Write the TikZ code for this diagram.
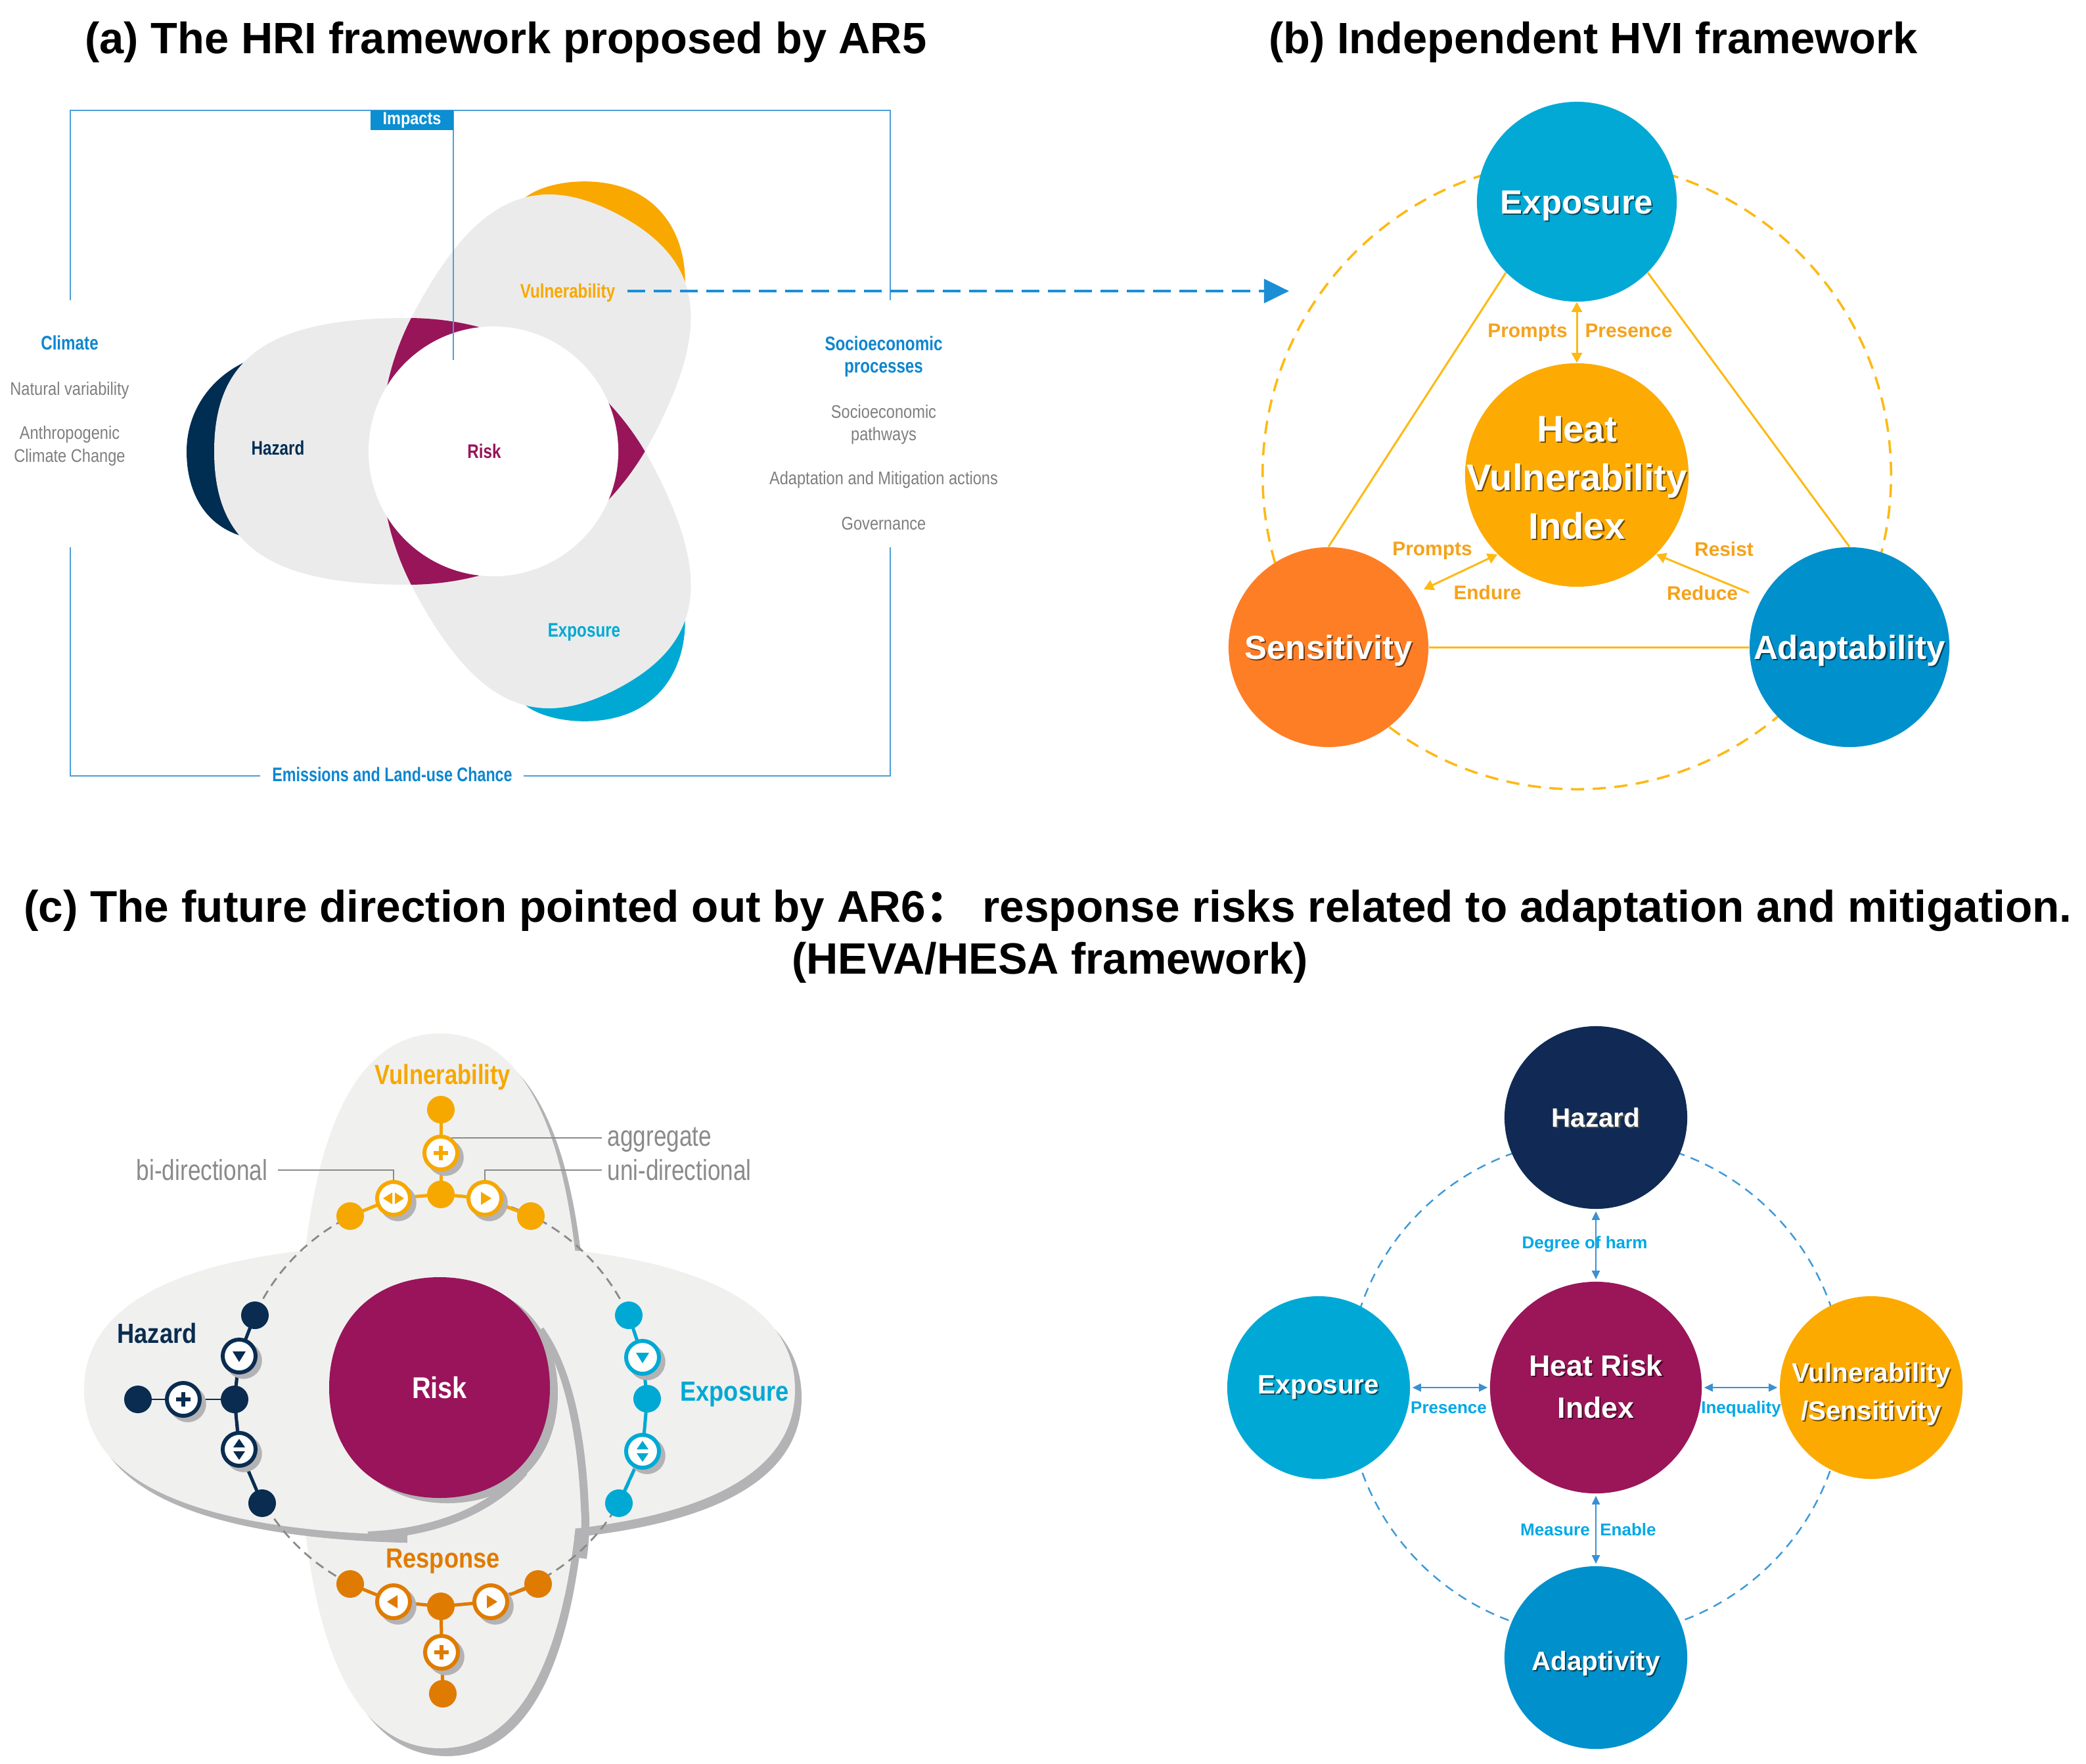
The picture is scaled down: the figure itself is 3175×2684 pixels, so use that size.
\documentclass[tikz,border=0pt]{standalone}
\usepackage{fontspec}
\setmainfont{Liberation Sans}
\newfontfamily\cjkfont{Noto Sans CJK SC}
\usepackage{graphicx}
\usetikzlibrary{arrows.meta,calc,shadows}

% (a)
\definecolor{aframe}{HTML}{4C9FDA}
\definecolor{ablue}{HTML}{0E86CF}
\definecolor{aimp}{HTML}{0B8ED2}
\definecolor{agray}{HTML}{7F7F7F}
\definecolor{petal}{HTML}{EBEBEB}
\definecolor{navy}{HTML}{002D52}
\definecolor{vorange}{HTML}{F9A800}
\definecolor{ecyan}{HTML}{00A9D4}
\definecolor{rmag}{HTML}{98155A}
\definecolor{arrowblue}{HTML}{1A8FD6}
% (b)
\definecolor{bexp}{HTML}{02A9D5}
\definecolor{bhvi}{HTML}{FDAA02}
\definecolor{bsens}{HTML}{FE7E26}
\definecolor{badapt}{HTML}{0090CC}
\definecolor{bline}{HTML}{FDB914}
\definecolor{blabel}{HTML}{F5A21B}
% (c) left
\definecolor{cface}{HTML}{F0F0EF}
\definecolor{cshadow}{HTML}{B3B2B4}
\definecolor{cnavy}{HTML}{0A2C50}
\definecolor{corange}{HTML}{F6A800}
\definecolor{cresp}{HTML}{DF7B00}
\definecolor{ccyan}{HTML}{00A9D4}
\definecolor{cmag}{HTML}{99145A}
\definecolor{cgrayt}{HTML}{8A8A8A}
\definecolor{cdashc}{HTML}{8A8A8A}
% (c) right
\definecolor{dnavy}{HTML}{102A55}
\definecolor{dmag}{HTML}{9A1659}
\definecolor{dcyan}{HTML}{00A9D5}
\definecolor{dorange}{HTML}{FCAA00}
\definecolor{dblue}{HTML}{0090CB}
\definecolor{ddash}{HTML}{3D9AD9}
\definecolor{dlabel}{HTML}{00A8E6}
\definecolor{darrow}{HTML}{3A90D0}

\newcommand\nar[2][0.85]{\scalebox{#1}[1]{#2}}
\newcommand\shd[2]{\leavevmode\rlap{\kern0.6pt\raisebox{-0.6pt}{\textcolor{#1}{#2}}}\textcolor{white}{#2}}
% superellipse-like closed path: cx, cy, a, b, k
\newcommand\sqpath[5]{({#1+#3},{#2}) .. controls ({#1+#3},{#2+#5*#4}) and ({#1+#5*#3},{#2+#4}) .. ({#1},{#2+#4}) .. controls ({#1-#5*#3},{#2+#4}) and ({#1-#3},{#2+#5*#4}) .. ({#1-#3},{#2}) .. controls ({#1-#3},{#2-#5*#4}) and ({#1-#5*#3},{#2-#4}) .. ({#1},{#2-#4}) .. controls ({#1+#5*#3},{#2-#4}) and ({#1+#3},{#2-#5*#4}) .. ({#1+#3},{#2}) -- cycle}
% petal (local coords, axis along x): blunt outer half (a_o = #1), round inner half, half width #2
\newcommand\petalpath[2]{(130,{-#2}) .. controls ({130+0.71*#1},{-#2}) and ({130+#1},{-0.71*#2}) .. ({130+#1},0) .. controls ({130+#1},{0.71*#2}) and ({130+0.71*#1},{#2}) .. (130,{#2}) .. controls (-35.7,{#2}) and (-170,{0.5523*#2}) .. (-170,0) .. controls (-170,{-0.5523*#2}) and (-35.7,{-#2}) .. (130,{-#2}) -- cycle}
\newcommand\symplus[2]{%
  \fill[#2] ($(#1)+(-11,-3)$) rectangle ($(#1)+(11,3)$);
  \fill[#2] ($(#1)+(-3,-11)$) rectangle ($(#1)+(3,11)$);}
\newcommand\symdown[2]{\fill[#2] ($(#1)+(-10,-7)$) -- ($(#1)+(10,-7)$) -- ($(#1)+(0,9)$) -- cycle;}
\newcommand\symupdown[2]{%
  \fill[#2] ($(#1)+(-9,-3)$) -- ($(#1)+(9,-3)$) -- ($(#1)+(0,-16)$) -- cycle;
  \fill[#2] ($(#1)+(-9,3)$) -- ($(#1)+(9,3)$) -- ($(#1)+(0,16)$) -- cycle;}
\newcommand\symright[2]{\fill[#2] ($(#1)+(-6,-10)$) -- ($(#1)+(-6,10)$) -- ($(#1)+(10,0)$) -- cycle;}
\newcommand\symleft[2]{\fill[#2] ($(#1)+(6,-10)$) -- ($(#1)+(6,10)$) -- ($(#1)+(-10,0)$) -- cycle;}
\newcommand\symbi[2]{%
  \fill[#2] ($(#1)+(-2,-9)$) -- ($(#1)+(-2,9)$) -- ($(#1)+(-16,0)$) -- cycle;
  \fill[#2] ($(#1)+(2,-9)$) -- ($(#1)+(2,9)$) -- ($(#1)+(16,0)$) -- cycle;}

\tikzset{
  ttl/.style={font=\fontsize{19}{23}\selectfont\bfseries, inner sep=0, text height=13.7pt, text depth=0pt},
  frame/.style={draw=aframe, line width=0.7pt},
  alab/.style={font=\fontsize{8.5}{10}\selectfont\bfseries, inner sep=0, text height=6.1pt, text depth=0pt},
  asmall/.style={font=\fontsize{7.9}{9}\selectfont, text=agray, inner sep=0, text height=5.7pt, text depth=0pt},
  impbox/.style={fill=aimp, text=white, minimum width=1.26cm, minimum height=0.305cm, inner sep=0,
    font=\fontsize{7.6}{9}\selectfont\bfseries},
  pH/.style={shift={(750,687)}, rotate=180, yscale=-1},
  pV/.style={shift={(750,687)}, rotate=62},
  pE/.style={shift={(750,687)}, rotate=-62, yscale=-1},
  bcirc/.style={circle, inner sep=0, minimum size=3.04cm, font=\fontsize{14.5}{16}\selectfont\bfseries,
    text height=10.4pt, text depth=0pt},
  bhtxt/.style={inner sep=0, font=\fontsize{16}{18}\selectfont\bfseries, text height=11.5pt, text depth=0pt},
  blab/.style={font=\fontsize{8.5}{10}\selectfont\bfseries, text=blabel, inner sep=0, text height=6.1pt, text depth=0pt},
  bl/.style={draw=bline, line width=0.85pt},
  barr/.style={draw=bline, line width=0.85pt, >={Triangle[length=0.15cm,width=0.16cm]}},
  bdash/.style={draw=bline, line width=1pt, dash pattern=on 0.2cm off 0.13cm},
  dcirc/.style={circle, inner sep=0, minimum size=2.78cm, font=\fontsize{11.5}{13}\selectfont\bfseries,
    text height=8.3pt, text depth=0pt},
  dtxt/.style={inner sep=0, font=\fontsize{11.5}{13}\selectfont\bfseries, text height=8.3pt, text depth=0pt},
  drtxt/.style={inner sep=0, font=\fontsize{12.7}{14}\selectfont\bfseries, text height=9.1pt, text depth=0pt},
  dlab/.style={font=\fontsize{7.4}{9}\selectfont\bfseries, text=dlabel, inner sep=0, text height=5.3pt, text depth=0pt},
  darr/.style={draw=darrow, line width=0.6pt, >={Triangle[length=0.13cm,width=0.12cm]},
    shorten <=0.03cm, shorten >=0.03cm},
  ddashs/.style={draw=ddash, line width=0.7pt, dash pattern=on 0.14cm off 0.10cm},
  clab/.style={font=\fontsize{12}{14}\selectfont\bfseries, inner sep=0, text height=8.6pt, text depth=0pt},
  cgl/.style={font=\fontsize{12.5}{14}\selectfont, text=cgrayt, inner sep=0, text height=9pt, text depth=0pt},
  leader/.style={draw=cgrayt, line width=0.6pt},
  chainl/.style={line width=0.05cm},
  thinl/.style={line width=0.022cm},
  dot/.style={circle, inner sep=0, minimum size=0.42cm},
  icon/.style={circle, inner sep=0, minimum size=0.50cm, fill=white, line width=0.06cm,
    drop shadow={shadow xshift=0.06cm, shadow yshift=-0.06cm, shadow scale=1.12, fill=cshadow, opacity=1}},
  cdash/.style={draw=cdashc, line width=0.8pt, dash pattern=on 0.14cm off 0.09cm},
}

\begin{document}
\begin{tikzpicture}[x=0.01cm, y=-0.01cm]
\useasboundingbox[fill=white] (0,0) rectangle (3175,2684);

% ---------- titles ----------
\node[ttl] (ta) at (770,57) {(a) The HRI framework proposed by AR5};
\node[ttl] (tb) at (2425,57) {(b) Independent HVI framework};
\node[ttl, font=\fontsize{19.2}{23}\selectfont\bfseries] (tc1) at (1595,1379) {(c) The future direction pointed out by AR6{\cjkfont ：} response risks related to adaptation and mitigation.};
\node[ttl] (tc2) at (1598,1458) {(HEVA/HESA framework)};

% ---------- (a) ----------
\draw[frame] (107,457) -- (107,168) -- (1355,168) -- (1355,457);
\draw[frame] (107,833) -- (107,1181) -- (396,1181);
\draw[frame] (797,1181) -- (1355,1181) -- (1355,833);

% coloured tips
\fill[navy, pH] (368,-140) .. controls (430,-115) and (466,-60) .. (466,0)
  .. controls (466,60) and (440,110) .. (385,128) -- (300,0) -- cycle;
\fill[vorange, pV] (361,-139) .. controls (400,-125) and (450,-55) .. (450,10)
  .. controls (450,70) and (410,115) .. (362,139) -- (300,0) -- cycle;
\fill[ecyan, pE] (361,-139) .. controls (400,-125) and (450,-55) .. (450,10)
  .. controls (450,70) and (410,115) .. (362,139) -- (300,0) -- cycle;
% petals
\fill[petal, pH] \petalpath{294}{203};
\fill[petal, pV] \petalpath{278}{205};
\fill[petal, pE] \petalpath{278}{205};
% overlaps
\begin{scope}
  \clip[pH] \petalpath{294}{203};
  \fill[rmag, pV] \petalpath{278}{205};
  \fill[rmag, pE] \petalpath{278}{205};
\end{scope}
\begin{scope}
  \clip[pV] \petalpath{278}{205};
  \fill[rmag, pE] \petalpath{278}{205};
\end{scope}
\fill[white] (751,687) circle (1.90cm);

\draw[frame] (690,168) -- (690,548);
\node[impbox] (imp) at (627,183) {\nar[0.88]{Impacts}};

\node[alab, text=navy] (ahaz) at (423,682) {\nar[0.81]{Hazard}};
\node[alab, text=rmag] (arisk) at (737,687) {\nar[0.81]{Risk}};
\node[alab, text=vorange] (avul) at (864,443) {\nar[0.81]{Vulnerability}};
\node[alab, text=ecyan] (aexp) at (889,959) {\nar[0.81]{Exposure}};
\node[alab, text=ablue] (aclim) at (106,522) {\nar[0.81]{Climate}};
\node[asmall] (anat) at (106,591) {\nar{Natural variability}};
\node[asmall] (aant) at (106,658) {\nar{Anthropogenic}};
\node[asmall] (acc) at (106,693) {\nar{Climate Change}};
\node[alab, text=ablue] (asoc) at (1345,523) {\nar[0.81]{Socioeconomic}};
\node[alab, text=ablue] (aproc) at (1345,557) {\nar[0.81]{processes}};
\node[asmall] (asp) at (1345,626) {\nar{Socioeconomic}};
\node[asmall] (apw) at (1345,660) {\nar{pathways}};
\node[asmall] (aam) at (1345,727) {\nar{Adaptation and Mitigation actions}};
\node[asmall] (agov) at (1345,796) {\nar{Governance}};
\node[alab, text=ablue] (aem) at (597,1179) {\nar[0.78]{Emissions and Land-use Chance}};

\coordinate (atip) at (1962,443);
\draw[arrowblue, line width=1.4pt, dash pattern=on 0.27cm off 0.13cm,
  -{Triangle[length=0.38cm,width=0.36cm]}] ([xshift=0.18cm]avul.east) -- (atip);

% ---------- (b) ----------
\draw[bdash] (2400,723) circle (4.78cm);
\node[bcirc, fill=bexp] (bE) at (2400,307) {\shd{bexp!45!black}{Exposure}};
\node[bcirc, fill=bhvi, minimum size=3.40cm] (bH) at (2400,723) {};
\node[bcirc, fill=bsens] (bS) at (2022,985) {\shd{bsens!45!black}{Sensitivity}};
\node[bcirc, fill=badapt] (bA) at (2815,985) {\shd{badapt!45!black}{Adaptability}};
\node[bhtxt] (bh1) at (2400,652) {\shd{bhvi!45!black}{Heat}};
\node[bhtxt] (bh2) at (2400,726) {\shd{bhvi!45!black}{Vulnerability}};
\node[bhtxt] (bh3) at (2400,800) {\shd{bhvi!45!black}{Index}};

\draw[bl] (bE.225) -- (bS.north);
\draw[bl] (bE.-45) -- (bA.north);
\draw[bl] (bS.east) -- (bA.west);
\draw[barr, <->] (bE.south) -- (bH.north);
\draw[barr, <->] (bH.225) -- ($(bS.center)+(145,-88)$);
\draw[barr, ->] ($(bA.center)+(-153,-83)$) -- (bH.-45);

\node[blab] (bl1) at (2325,503) {Prompts};
\node[blab] (bl2) at (2479,503) {Presence};
\node[blab] (bl3) at (2180,835) {Prompts};
\node[blab] (bl4) at (2264,902) {Endure};
\node[blab] (bl5) at (2624,836) {Resist};
\node[blab] (bl6) at (2591,903) {Reduce};

% ---------- (c) right ----------
\draw[ddashs] (2429,2112) circle (3.78cm);
\node[dcirc, fill=dnavy] (dH) at (2429,1701) {\shd{black!70}{Hazard}};
\node[dcirc, fill=dmag, minimum size=3.22cm] (dR) at (2429,2112) {};
\node[dcirc, fill=dcyan] (dE) at (2007,2112) {};
\node[dcirc, fill=dorange] (dV) at (2848,2112) {};
\node[dcirc, fill=dblue] (dA) at (2429,2523) {};
\node[dtxt] (dEt) at (2007,2107) {\shd{dcyan!45!black}{Exposure}};
\node[dtxt] (dAt) at (2429,2528) {\shd{dblue!45!black}{Adaptivity}};
\node[dtxt] (dV1) at (2848,2089) {\shd{dorange!45!black}{Vulnerability}};
\node[dtxt] (dV2) at (2848,2147) {\shd{dorange!45!black}{/Sensitivity}};
\node[drtxt] (dR1) at (2429,2078) {\shd{dmag!45!black}{Heat Risk}};
\node[drtxt] (dR2) at (2429,2142) {\shd{dmag!45!black}{Index}};

\draw[darr, <->] (dH.south) -- (dR.north);
\draw[darr, <->] (dE.east) -- (dR.west);
\draw[darr, <->] (dR.east) -- (dV.west);
\draw[darr, <->] (dR.south) -- (dA.north);
\node[dlab] (dl1) at (2412,1891) {Degree of harm};
\node[dlab] (dl2) at (2205,2142) {Presence};
\node[dlab] (dl3) at (2650,2142) {Inequality};
\node[dlab] (dl4) at (2367,2328) {Measure};
\node[dlab] (dl5) at (2478,2328) {Enable};

% ---------- (c) left ----------
\fill[cshadow] \sqpath{680}{2129}{216}{544}{0.66};
\fill[cface] \sqpath{670}{2117}{216}{544}{0.66};
\fill[cshadow] \sqpath{679}{2127}{541}{222}{0.66};
\fill[cface] \sqpath{669}{2115}{541}{222}{0.66};
% interlacing: vertical band over horizontal in lower right
\draw[cshadow, line width=0.12cm] (822,2024) .. controls (862,2079) and (885,2174) .. (890,2294)
  .. controls (892,2320) and (891,2345) .. (887,2372);
\begin{scope}
  \clip \sqpath{670}{2117}{216}{544}{0.66};
  \fill[cface] (815,2020) .. controls (855,2075) and (878,2170) .. (883,2290) -- (900,2290)
    -- (900,2430) -- (620,2430) -- (620,2100) -- cycle;
\end{scope}
\draw[cshadow, line width=0.12cm] (560,2337) .. controls (660,2333) and (745,2300) .. (798,2240);
% risk blob
\fill[cshadow] \sqpath{681}{2120}{168}{168}{0.6};
\fill[cmag] \sqpath{669}{2112}{168}{168}{0.6};
\node[clab, font=\fontsize{13}{15}\selectfont\bfseries, text height=9.4pt, text=white] (crisk) at (669,2112) {\nar[0.87]{Risk}};

\draw[cdash] (672,2131) circle (3.12cm);

% chain coordinates
\coordinate (pvT) at (671,1689); \coordinate (pvP) at (671,1755); \coordinate (pvC) at (671,1818);
\coordinate (pvB) at (599,1824); \coordinate (pvU) at (738,1824); \coordinate (pvL) at (533,1851);
\coordinate (pvR) at (808,1851);
\coordinate (phT) at (388,2002); \coordinate (phD) at (364,2064); \coordinate (phC) at (357,2130);
\coordinate (phUD) at (364,2206); \coordinate (phB) at (399,2288); \coordinate (phP) at (279,2130);
\coordinate (phL) at (210,2130);
\coordinate (peT) at (957,2002); \coordinate (peD) at (978,2066); \coordinate (peC) at (985,2129);
\coordinate (peUD) at (978,2209); \coordinate (peB) at (942,2288);
\coordinate (prL) at (533,2411); \coordinate (prLa) at (599,2438); \coordinate (prC) at (671,2445);
\coordinate (prRa) at (747,2438); \coordinate (prR) at (819,2411); \coordinate (prP) at (672,2515);
\coordinate (prB) at (674,2578);

\draw[chainl, corange] (pvT) -- (pvC);
\draw[chainl, corange] (pvL) -- (pvB) -- (pvC) -- (pvU) -- (pvR);
\draw[chainl, cnavy] (phT) -- (phD) -- (phC) -- (phUD) -- (phB);
\draw[thinl, cnavy] (phL) -- (phC);
\draw[chainl, ccyan] (peT) -- (peD) -- (peC) -- (peUD) -- (peB);
\draw[chainl, cresp] (prL) -- (prLa) -- (prC) -- (prRa) -- (prR);
\draw[chainl, cresp] (prC) -- (prB);

% vulnerability chain
\node[dot, fill=corange] (vT) at (pvT) {};
\node[dot, fill=corange] (vC) at (pvC) {};
\node[dot, fill=corange] (vL) at (pvL) {};
\node[dot, fill=corange] (vR) at (pvR) {};
\node[icon, draw=corange] (vP) at (pvP) {}; \symplus{vP}{corange}
\node[icon, draw=corange] (vB) at (pvB) {}; \symbi{vB}{corange}
\node[icon, draw=corange] (vU) at (pvU) {}; \symright{vU}{corange}
% hazard chain
\node[dot, fill=cnavy] (hT) at (phT) {};
\node[dot, fill=cnavy] (hC) at (phC) {};
\node[dot, fill=cnavy] (hB) at (phB) {};
\node[dot, fill=cnavy] (hL) at (phL) {};
\node[icon, draw=cnavy] (hD) at (phD) {}; \symdown{hD}{cnavy}
\node[icon, draw=cnavy] (hUD) at (phUD) {}; \symupdown{hUD}{cnavy}
\node[icon, draw=cnavy] (hP) at (phP) {}; \symplus{hP}{cnavy}
% exposure chain
\node[dot, fill=ccyan] (eT) at (peT) {};
\node[dot, fill=ccyan] (eC) at (peC) {};
\node[dot, fill=ccyan] (eB) at (peB) {};
\node[icon, draw=ccyan] (eD) at (peD) {}; \symdown{eD}{ccyan}
\node[icon, draw=ccyan] (eUD) at (peUD) {}; \symupdown{eUD}{ccyan}
% response chain
\node[dot, fill=cresp] (rL) at (prL) {};
\node[dot, fill=cresp] (rC) at (prC) {};
\node[dot, fill=cresp] (rR) at (prR) {};
\node[dot, fill=cresp] (rB) at (prB) {};
\node[icon, draw=cresp] (rLa) at (prLa) {}; \symleft{rLa}{cresp}
\node[icon, draw=cresp] (rRa) at (prRa) {}; \symright{rRa}{cresp}
\node[icon, draw=cresp] (rP) at (prP) {}; \symplus{rP}{cresp}

% leaders and their texts
\coordinate (lagg) at (916,1733);
\coordinate (luni) at (916,1781);
\coordinate (lbi) at (423,1781);
\draw[leader] (vP.55) -- (vP.55 -| lagg);
\draw[leader] (vU.north) |- (luni);
\draw[leader] (vB.north) |- (lbi);
\node[cgl, anchor=west] (tagg) at (924,1729) {\nar[0.8]{aggregate}};
\node[cgl, anchor=west] (tuni) at (924,1781) {\nar[0.8]{uni-directional}};
\node[cgl, anchor=east] (tbi) at (408,1781) {\nar[0.8]{bi-directional}};

\node[clab, text=corange] (cvul) at (674,1635) {\nar[0.82]{Vulnerability}};
\node[clab, text=cnavy] (chaz) at (239,2029) {\nar[0.86]{Hazard}};
\node[clab, text=ccyan] (cexp) at (1118,2117) {\nar[0.86]{Exposure}};
\node[clab, text=cresp] (cres) at (674,2371) {\nar[0.86]{Response}};
\end{tikzpicture}
\end{document}
